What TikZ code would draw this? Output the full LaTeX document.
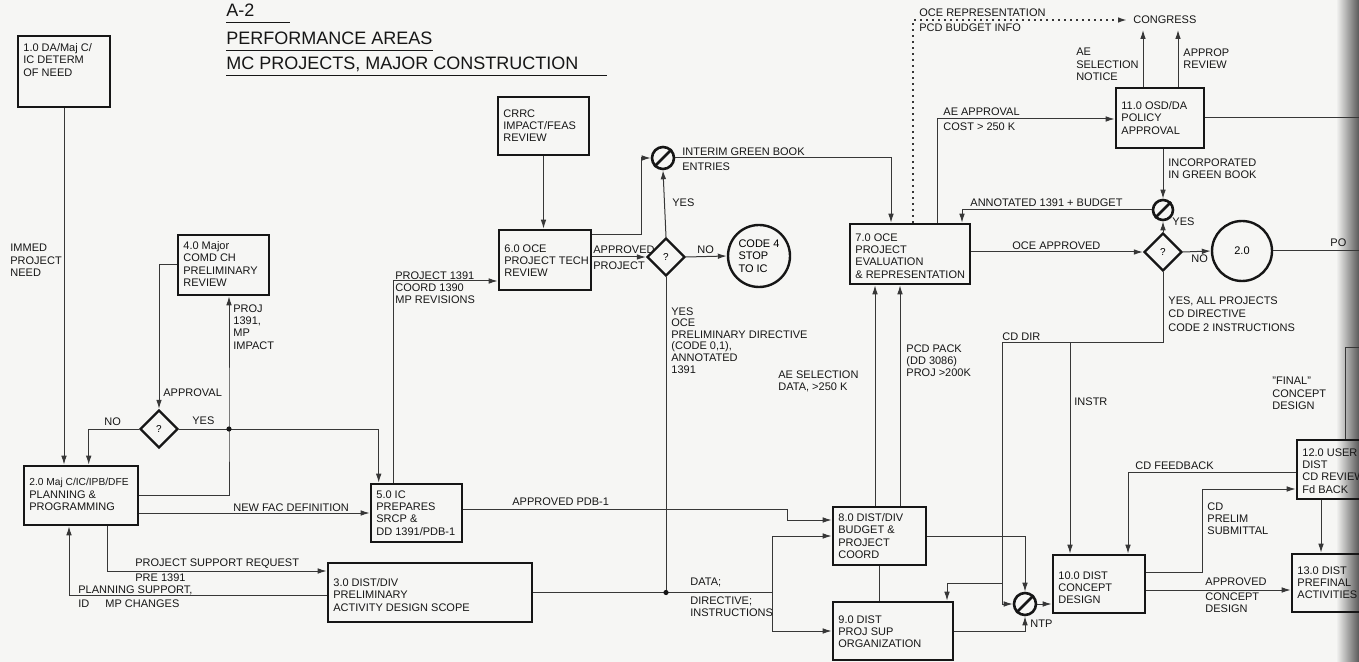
\documentclass[tikz,border=0pt]{standalone}
\usepackage{fontspec}
\setmainfont{Liberation Sans}
\usetikzlibrary{arrows.meta,shapes.geometric,calc}
\definecolor{bg}{RGB}{246,246,244}
\definecolor{ink}{RGB}{22,22,22}
\definecolor{wire}{RGB}{55,55,55}
\newcommand\mybox[7]{%
 \node[box, minimum width=#4*0.5pt, minimum height=#5*0.5pt] (#1) at ({#2+#4/2},{#3+#5/2}) {};
 \node[txt, anchor=north west] (#1t) at ({#2+5},{#3+#6}) {#7};}
\begin{document}
\begin{tikzpicture}[x=0.5pt,y=-0.5pt,
 box/.style={draw=ink, line width=1.3pt, inner sep=0pt},
 txt/.style={font=\fontsize{5.5}{6.2}\selectfont, inner sep=0pt, align=left, text=ink},
 lbl/.style={txt},
 wire/.style={draw=wire, line width=0.5pt},
 arr/.style={wire, -{Latex[length=4.5pt,width=2.8pt]}},
 dotline/.style={draw=wire, line width=0.8pt, dash pattern=on 0.8pt off 2.2pt},
 dia/.style={diamond, draw=ink, line width=1.2pt, minimum width=19pt, minimum height=19pt, inner sep=0pt, font=\fontsize{5}{6}\selectfont},
 ring/.style={circle, draw=ink, line width=1.2pt, inner sep=0pt},
 slash/.style={circle, draw=ink, line width=1.3pt, minimum size=11pt, inner sep=0pt},
 slashline/.style={draw=ink, line width=1.3pt},
 dot/.style={circle, fill=ink, inner sep=0pt, minimum size=2.6pt},
 ttl/.style={font=\fontsize{9}{10}\selectfont, inner sep=0pt, anchor=west, text=ink},
 uline/.style={draw=ink, line width=0.6pt}]
\path[fill=bg] (0,0) rectangle (1359,662);
\useasboundingbox (0,0) rectangle (1359,662);
\clip (0,0) rectangle (1359,662);
\shade[left color=bg, right color=black!65] (1336,0) rectangle (1359,662);

% title
\node[ttl] (ta) at (226,10) {A-2};
\node[ttl] (tb) at (226,38) {PERFORMANCE AREAS};
\node[ttl] (tc) at (226,64) {MC PROJECTS, MAJOR CONSTRUCTION};
\draw[uline] ([yshift=-3pt]ta.base west) -- ++(64,0);
\draw[uline] ([yshift=-3pt]tb.base west) -- ([yshift=-3pt]tb.base east);
\draw[uline] ([yshift=-3pt]tc.base west) -- ($([yshift=-3pt]tc.base east)+(28,0)$);

% boxes
\mybox{n1}{18}{36}{92}{71}{7}{1.0 DA/Maj C/\\IC DETERM\\OF NEED}
\mybox{n4}{178}{235}{91}{60}{6}{4.0 Major\\COMD CH\\PRELIMINARY\\REVIEW}
\mybox{crrc}{498}{97}{91}{58}{12}{CRRC\\IMPACT/FEAS\\REVIEW}
\mybox{n6}{499}{230}{92}{60}{14}{6.0 OCE\\PROJECT TECH\\REVIEW}
\mybox{n7}{850}{224}{120}{60}{9}{7.0 OCE\\PROJECT\\EVALUATION\\\& REPRESENTATION}
\mybox{n11}{1116}{88}{88}{60}{13}{11.0 OSD/DA\\POLICY\\APPROVAL}
\mybox{n2}{24}{466}{114}{59}{12}{\fontsize{5.1}{6.2}\selectfont 2.0 Maj C/IC/IPB/DFE\\PLANNING \&\\PROGRAMMING}
\mybox{n5}{371}{484}{91}{58}{6}{5.0 IC\\PREPARES\\SRCP \&\\DD 1391/PDB-1}
\mybox{n3}{328}{563}{204}{59}{15}{3.0 DIST/DIV\\PRELIMINARY\\ACTIVITY DESIGN SCOPE}
\mybox{n8}{833}{507}{93}{58}{6}{8.0 DIST/DIV\\BUDGET \&\\PROJECT\\COORD}
\mybox{n9}{833}{602}{120}{58}{13}{9.0 DIST\\PROJ SUP\\ORGANIZATION}
\mybox{n10}{1053}{555}{92}{58}{16}{10.0 DIST\\CONCEPT\\DESIGN}
\mybox{n12}{1297}{440}{90}{59}{8}{12.0 USER\\DIST\\CD REVIEW\\Fd BACK}
\mybox{n13}{1292}{554}{90}{58}{12}{13.0 DIST\\PREFINAL\\ACTIVITIES}

% decisions and circles
\node[dia] (d1) at (159,429) {?};
\node[dia] (d2) at (666,257) {?};
\node[dia] (d3) at (1163,252) {?};
\node[ring, minimum size=31pt, align=left, font=\fontsize{5.5}{6.2}\selectfont] (code4) at (759,256) {CODE 4\\STOP\\TO IC};
\node[ring, minimum size=30pt, font=\fontsize{5.5}{6.2}\selectfont] (c20) at (1242,251) {2.0};
\node[slash] (s1) at (663,158) {};
\node[slash, minimum size=10pt] (s2) at (1163,210) {};
\node[slash] (ntp) at (1025,604) {};
\draw[slashline] (s1.south west) -- (s1.north east);
\draw[slashline] (s2.south west) -- (s2.north east);
\draw[slashline] (ntp.south west) -- (ntp.north east);
\node[lbl, anchor=west] (congress) at (1133,20) {CONGRESS};

% junction coordinates
\coordinate (j1) at (229,429);
\coordinate (j2) at (393,281);
\coordinate (j3) at (107,571);
\coordinate (j4) at (69,595);
\coordinate (j5) at (787,509);
\coordinate (j6) at (787,520);
\coordinate (j7) at (666,592.5);
\coordinate (j8) at (772,592.5);
\coordinate (j9) at (641,235);
\coordinate (j10) at (891,158);
\coordinate (j11) at (913,20);
\coordinate (j12) at (937,119);
\coordinate (c1) at (1143,30);
\coordinate (c2) at (1178,30);
\coordinate (e1) at (1359,118);
\coordinate (j13) at (962,210);
\coordinate (e2) at (1359,251);
\coordinate (j14) at (1002,343);
\coordinate (j16) at (1070,343);
\coordinate (j15) at (1002,583);
\coordinate (j17) at (947,583);
\coordinate (j18) at (1202,572);
\coordinate (j19) at (1202,489);
\coordinate (j20) at (1128,472);
\coordinate (j22) at (1200,590);
\coordinate (j21) at (1345,348);
\coordinate (e3) at (1359,348);
\coordinate (a1) at (875,400);
\coordinate (a2) at (900,400);
\coordinate (k1) at (1321,520);

% connectors, left part
\draw[arr] (n1.south) -- (n1.south |- n2.north);
\draw[arr] (n4.west) -| (d1.north);
\draw[arr] (d1.west) -| ($(n2.north west)+(66,0)$);
\draw[arr] (d1.east) -| ($(n5.north west)+(9,0)$);
\draw[arr] (n2.east) -| (j1) -- (j1 |- n4.south);
\node[dot] (dt1) at (j1) {};
\draw[arr] (n2.east |- n5.west) -- (n5.west);
\draw[arr] (n5.north -| j2) -- (j2) -- (j2 -| n6.west);
\draw[arr] (n2.south -| j3) -- (j3) -- (j3 -| n3.west);
\draw[arr] (n3.west |- j4) -- (j4) -- (j4 |- n2.south);
\draw[arr] (n5.east |- j5) -- (j5) -- (j6) -- (j6 -| n8.west);
\draw[wire] (n3.east) -- (j8);
\draw[arr] (j8) |- (n8.west);
\draw[arr] (j8) |- (n9.west);
\draw[wire] (d2.south) -- (j7);
\node[dot] (dt2) at (j7) {};

% middle part
\draw[arr] (crrc.south) -- (crrc.south |- n6.north);
\draw[arr] (n6.east |- j9) -- (j9) |- (s1.west);
\draw[arr] (n6.east |- d2.west) -- (d2.west);
\draw[arr] (d2.north) -- (s1.south);
\draw[arr] (d2.east) -- (code4.west);
\draw[arr] (s1.east) -- (j10) -- (j10 |- n7.north);
\draw[dotline, -{Latex[length=4.5pt,width=2.8pt]}] (n7.north -| j11) -- (j11) -- ([xshift=-3pt]congress.west);
\draw[arr] (n7.north -| j12) -- (j12) -- (j12 -| n11.west);
\draw[arr] (n11.north -| c1) -- (c1);
\draw[arr] (n11.north -| c2) -- (c2);
\draw[wire] (n11.east |- e1) -- (e1);
\draw[arr] (n11.south -| s2) -- (s2.north);
\draw[arr] (s2.west) -- (j13) -- (j13 |- n7.north);
\draw[arr] (d3.north) -- (s2.south);
\draw[arr] (n7.east |- d3.west) -- (d3.west);
\draw[arr] (d3.east) -- (c20.west);
\draw[wire] (c20.east) -- (e2);
\draw[arr] (n8.north -| a1) -- (a1 |- n7.south);
\draw[arr] (n8.north -| a2) -- (a2 |- n7.south);
\draw[wire] (n8.south) -- (n8.south |- n9.north);

% right part
\draw[wire] (d3.south) -- (d3.south |- j14) -- (j14) -- (j15);
\draw[arr] (j16) -- (j16 |- n10.north);
\draw[arr] (j15) |- (ntp.west);
\draw[arr] (j15) -- (j17) -- (j17 |- n9.north);
\draw[arr] (n8.east) -| (ntp.north);
\draw[arr] (n9.east) -| (ntp.south);
\draw[arr] (ntp.east) -- (ntp.east -| n10.west);
\draw[arr] (n10.east |- j18) -- (j18) -- (j19) -- (j19 -| n12.west);
\draw[arr] (n12.west |- j20) -- (j20) -- (j20 |- n10.north);
\draw[arr] (n10.east |- j22) -- (j22 -| n13.west);
\draw[arr] (n12.south -| k1) -- (k1 |- n13.north);
\draw[wire] (n12.north -| j21) -- (j21) -- (e3);

% labels
\node[lbl, anchor=north west] (l1) at (10,244) {IMMED\\PROJECT\\NEED};
\node[lbl, anchor=west] (l2) at (163,393) {APPROVAL};
\node[lbl, anchor=north west] (l3) at (233,304) {PROJ\\1391,\\MP\\IMPACT};
\node[lbl, anchor=west] (l4) at (104,422) {NO};
\node[lbl, anchor=west] (l5) at (192,421) {YES};
\node[lbl, anchor=west] (l6) at (233,508) {NEW FAC DEFINITION};
\node[lbl, anchor=north west] (l7) at (395,271) {PROJECT 1391\\COORD 1390\\MP REVISIONS};
\node[lbl, anchor=west] (l8) at (135,564) {PROJECT SUPPORT REQUEST};
\node[lbl, anchor=west] (l9) at (135,578) {PRE 1391};
\node[lbl, anchor=west] (l10) at (78,590) {PLANNING SUPPORT,};
\node[lbl, anchor=west] (l11) at (78,604) {ID\hspace{8pt}MP CHANGES};
\node[lbl, anchor=west] (l12) at (512,502) {APPROVED PDB-1};
\node[lbl, anchor=west] (l13) at (690,582) {DATA;};
\node[lbl, anchor=north west] (l14) at (690,596) {DIRECTIVE;\\INSTRUCTIONS};
\node[lbl, anchor=north west, font=\fontsize{5.5}{5.8}\selectfont] (l15) at (671,307) {YES\\OCE\\PRELIMINARY DIRECTIVE\\(CODE 0,1),\\ANNOTATED\\1391};
\node[lbl, anchor=west] (l16) at (593,250) {APPROVED};
\node[lbl, anchor=west] (l17) at (593,266) {PROJECT};
\node[lbl, anchor=west] (l18) at (672,203) {YES};
\node[lbl, anchor=west] (l19) at (697,250) {NO};
\node[lbl, anchor=west] (l20) at (682,152) {INTERIM GREEN BOOK};
\node[lbl, anchor=west] (l21) at (682,167) {ENTRIES};
\node[lbl, anchor=west] (l22) at (919,13) {OCE REPRESENTATION};
\node[lbl, anchor=west] (l23) at (919,28) {PCD BUDGET INFO};
\node[lbl, anchor=north east] (l24) at (1139,48) {AE\\SELECTION\\NOTICE};
\node[lbl, anchor=north west] (l25) at (1183,48) {APPROP\\REVIEW};
\node[lbl, anchor=west] (l26) at (943,112) {AE APPROVAL};
\node[lbl, anchor=west] (l27) at (943,127) {COST > 250 K};
\node[lbl, anchor=north west] (l28) at (1168,158) {INCORPORATED\\IN GREEN BOOK};
\node[lbl, anchor=west] (l29) at (970,203) {ANNOTATED 1391 + BUDGET};
\node[lbl, anchor=west] (l30) at (1172,222) {YES};
\node[lbl, anchor=west] (l31) at (1012,246) {OCE APPROVED};
\node[lbl, anchor=west] (l32) at (1191,259) {NO};
\node[lbl, anchor=west] (l33) at (1330,243) {PO};
\node[lbl, anchor=north west, font=\fontsize{5.5}{6.8}\selectfont] (l34) at (1168,296) {YES, ALL PROJECTS\\CD DIRECTIVE\\CODE 2 INSTRUCTIONS};
\node[lbl, anchor=west] (l35) at (1002,337) {CD DIR};
\node[lbl, anchor=west] (l36) at (1074,402) {INSTR};
\node[lbl, anchor=north west] (l37) at (778,370) {AE SELECTION\\DATA, >250 K};
\node[lbl, anchor=north west] (l38) at (906,344) {PCD PACK\\(DD 3086)\\PROJ >200K};
\node[lbl, anchor=north west] (l39) at (1272,377) {"FINAL"\\CONCEPT\\DESIGN};
\node[lbl, anchor=west] (l40) at (1135,466) {CD FEEDBACK};
\node[lbl, anchor=north west] (l41) at (1207,502) {CD\\PRELIM\\SUBMITTAL};
\node[lbl, anchor=west] (l42) at (1205,582) {APPROVED};
\node[lbl, anchor=north west] (l43) at (1205,592) {CONCEPT\\DESIGN};
\node[lbl, anchor=west] (l44) at (1030,624) {NTP};
\end{tikzpicture}
\end{document}
